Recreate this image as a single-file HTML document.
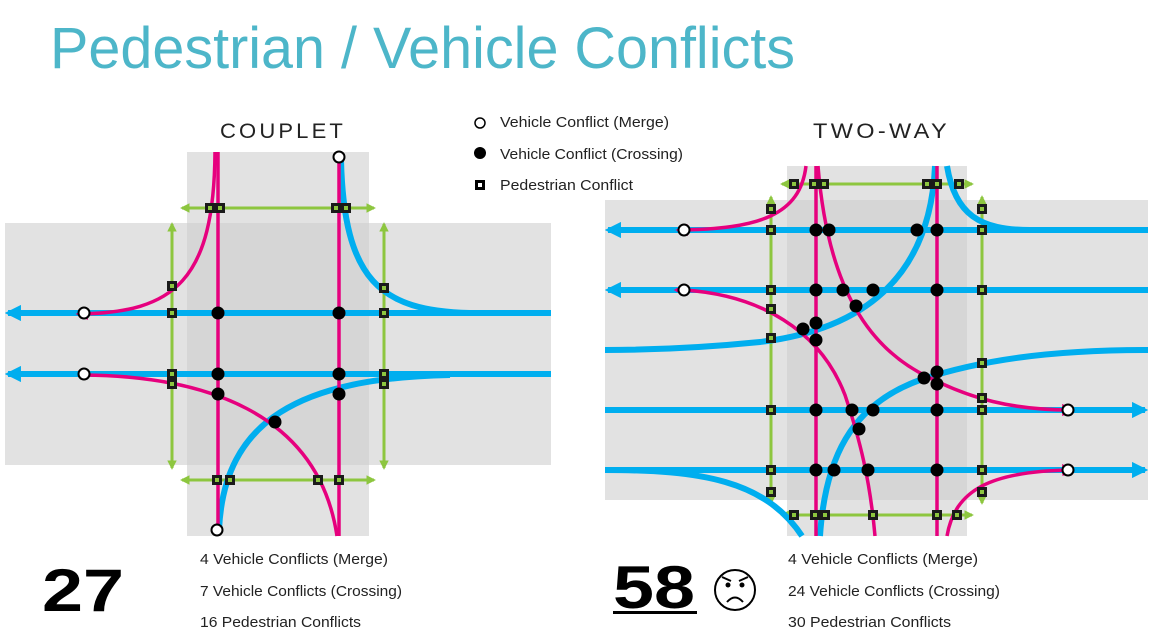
<!DOCTYPE html>
<html><head><meta charset="utf-8"><style>
html,body{margin:0;padding:0;background:#fff;width:1152px;height:644px;overflow:hidden}
svg{display:block}
text{font-family:"Liberation Sans",sans-serif}
</style></head><body>
<svg width="1152" height="644" viewBox="0 0 1152 644" xmlns="http://www.w3.org/2000/svg">
<defs>
<marker id="ab" viewBox="0 0 10 10" refX="8" refY="5" markerWidth="2.7" markerHeight="2.7" orient="auto-start-reverse"><path d="M0,0 L10,5 L0,10 z" fill="#00aeef"/></marker>
<marker id="ag" viewBox="0 0 10 10" refX="8" refY="5" markerWidth="3.2" markerHeight="3.2" orient="auto-start-reverse"><path d="M0,0 L10,5 L0,10 z" fill="#8dc63f"/></marker>
<marker id="ap" viewBox="0 0 10 10" refX="8" refY="5" markerWidth="3.5" markerHeight="3.5" orient="auto"><path d="M0,0 L10,5 L0,10 z" fill="#e6007e"/></marker>
</defs>

<text x="50" y="68" font-size="58" fill="#4db6c9" textLength="745" lengthAdjust="spacingAndGlyphs">Pedestrian / Vehicle Conflicts</text>

<text x="220" y="138" font-size="21" fill="#222" letter-spacing="3" textLength="126" lengthAdjust="spacingAndGlyphs">COUPLET</text>
<text x="813" y="138" font-size="21" fill="#222" letter-spacing="3" textLength="137" lengthAdjust="spacingAndGlyphs">TWO-WAY</text>

<!-- legend -->
<circle cx="480" cy="123" r="5" fill="#fff" stroke="#000" stroke-width="1.5"/>
<text x="500" y="127" font-size="14.5" fill="#222" textLength="169" lengthAdjust="spacingAndGlyphs">Vehicle Conflict (Merge)</text>
<circle cx="480" cy="153" r="6" fill="#000"/>
<text x="500" y="159" font-size="14.5" fill="#222" textLength="183" lengthAdjust="spacingAndGlyphs">Vehicle Conflict (Crossing)</text>
<rect x="475" y="180" width="10" height="10" fill="#000"/><rect x="478" y="183" width="4" height="4" fill="#fff"/>
<text x="500" y="190" font-size="14.5" fill="#222" textLength="133" lengthAdjust="spacingAndGlyphs">Pedestrian Conflict</text>

<!-- ===== COUPLET ===== -->
<rect x="5" y="223" width="546" height="242" fill="#e2e2e2"/>
<rect x="187" y="152" width="182" height="384" fill="#e2e2e2"/>
<rect x="187" y="223" width="182" height="242" fill="#d6d6d6"/>
<g fill="none" stroke-linecap="butt">
<g stroke="#8dc63f" stroke-width="3">
<line x1="182" y1="208" x2="374" y2="208" marker-start="url(#ag)" marker-end="url(#ag)"/>
<line x1="182" y1="480" x2="374" y2="480" marker-start="url(#ag)" marker-end="url(#ag)"/>
<line x1="172" y1="224" x2="172" y2="468" marker-start="url(#ag)" marker-end="url(#ag)"/>
<line x1="384" y1="224" x2="384" y2="468" marker-start="url(#ag)" marker-end="url(#ag)"/>
</g>
<g stroke="#00aeef" stroke-width="6">
<line x1="551" y1="313" x2="8" y2="313" marker-end="url(#ab)"/>
<line x1="551" y1="374" x2="8" y2="374" marker-end="url(#ab)"/>
<path d="M341,160 C344,280 380,311 470,313"/>
<path d="M219,530 C224,420 300,378 450,375"/>
</g>
<g stroke="#e6007e" stroke-width="3.5">
<line x1="218" y1="152" x2="218" y2="536"/>
<line x1="339" y1="152" x2="339" y2="536"/>
<path d="M215,152 C214,280 175,313 78,314" marker-end="url(#ap)"/>
<path d="M84,375 C200,376 318,410 337,536"/>
</g>
</g>
<g fill="#000">
<circle cx="218" cy="313" r="6.5"/><circle cx="339" cy="313" r="6.5"/>
<circle cx="218" cy="374" r="6.5"/><circle cx="339" cy="374" r="6.5"/>
<circle cx="218" cy="394" r="6.5"/><circle cx="339" cy="394" r="6.5"/>
<circle cx="275" cy="422" r="6.5"/>
</g>
<g fill="#fff" stroke="#000" stroke-width="2">
<circle cx="84" cy="313" r="5.5"/><circle cx="84" cy="374" r="5.5"/>
<circle cx="339" cy="157" r="5.5"/><circle cx="217" cy="530" r="5.5"/>
</g>

<!-- ===== TWO-WAY ===== -->
<rect x="605" y="200" width="543" height="300" fill="#e2e2e2"/>
<rect x="787" y="166" width="180" height="370" fill="#e2e2e2"/>
<rect x="787" y="200" width="180" height="300" fill="#d6d6d6"/>
<g fill="none">
<g stroke="#8dc63f" stroke-width="3">
<line x1="782" y1="184" x2="972" y2="184" marker-start="url(#ag)" marker-end="url(#ag)"/>
<line x1="782" y1="515" x2="972" y2="515" marker-start="url(#ag)" marker-end="url(#ag)"/>
<line x1="771" y1="197" x2="771" y2="503" marker-start="url(#ag)" marker-end="url(#ag)"/>
<line x1="982" y1="197" x2="982" y2="503" marker-start="url(#ag)" marker-end="url(#ag)"/>
</g>
<g stroke="#00aeef" stroke-width="6">
<line x1="1148" y1="230" x2="608" y2="230" marker-end="url(#ab)"/>
<line x1="1148" y1="290" x2="608" y2="290" marker-end="url(#ab)"/>
<line x1="605" y1="410" x2="1145" y2="410" marker-end="url(#ab)"/>
<line x1="605" y1="470" x2="1145" y2="470" marker-end="url(#ab)"/>
<path d="M935,166 C930,280 860,330 760,342 C700,348 650,350 605,350"/>
<path d="M1148,350 C1050,350 980,360 920,380 C850,405 825,460 820,536"/>
<path d="M605,470 C700,470 765,480 802,536"/>
<path d="M947,166 C955,215 980,230 1030,230"/>
</g>
<g stroke="#e6007e" stroke-width="3.5">
<line x1="816" y1="166" x2="816" y2="536"/>
<line x1="937" y1="166" x2="937" y2="536"/>
<path d="M806,166 C800,215 760,229 678,230" marker-end="url(#ap)"/>
<path d="M684,290 C760,295 820,330 845,395 C860,440 870,480 875,536"/>
<path d="M818,166 C828,290 870,350 930,378 C970,398 1010,410 1072,410" marker-end="url(#ap)"/>
<path d="M947,536 C955,490 990,471 1072,470" marker-end="url(#ap)"/>
</g>
<path d="M684,290 L676,290" stroke="#e6007e" stroke-width="3.5" marker-end="url(#ap)"/>
</g>
<g fill="#000">
<circle cx="816" cy="230" r="6.5"/><circle cx="829" cy="230" r="6.5"/><circle cx="917" cy="230" r="6.5"/><circle cx="937" cy="230" r="6.5"/>
<circle cx="816" cy="290" r="6.5"/><circle cx="843" cy="290" r="6.5"/><circle cx="873" cy="290" r="6.5"/><circle cx="937" cy="290" r="6.5"/>
<circle cx="856" cy="306" r="6.5"/>
<circle cx="816" cy="323" r="6.5"/><circle cx="803" cy="329" r="6.5"/><circle cx="816" cy="340" r="6.5"/>
<circle cx="937" cy="372" r="6.5"/><circle cx="924" cy="378" r="6.5"/><circle cx="937" cy="384" r="6.5"/>
<circle cx="816" cy="410" r="6.5"/><circle cx="852" cy="410" r="6.5"/><circle cx="873" cy="410" r="6.5"/><circle cx="937" cy="410" r="6.5"/>
<circle cx="859" cy="429" r="6.5"/>
<circle cx="816" cy="470" r="6.5"/><circle cx="834" cy="470" r="6.5"/><circle cx="868" cy="470" r="6.5"/><circle cx="937" cy="470" r="6.5"/>
</g>
<g fill="#fff" stroke="#000" stroke-width="2">
<circle cx="684" cy="230" r="5.5"/><circle cx="684" cy="290" r="5.5"/>
<circle cx="1068" cy="410" r="5.5"/><circle cx="1068" cy="470" r="5.5"/>
</g>

<!-- pedestrian squares -->
<g fill="#1a1a1a">
<rect x="205" y="203" width="10" height="10"/><rect x="215" y="203" width="10" height="10"/><rect x="331" y="203" width="10" height="10"/><rect x="341" y="203" width="10" height="10"/>
<rect x="167" y="281" width="10" height="10"/><rect x="167" y="308" width="10" height="10"/><rect x="167" y="369" width="10" height="10"/><rect x="167" y="379" width="10" height="10"/>
<rect x="379" y="283" width="10" height="10"/><rect x="379" y="308" width="10" height="10"/><rect x="379" y="369" width="10" height="10"/><rect x="379" y="379" width="10" height="10"/>
<rect x="212" y="475" width="10" height="10"/><rect x="225" y="475" width="10" height="10"/><rect x="313" y="475" width="10" height="10"/><rect x="334" y="475" width="10" height="10"/>
<rect x="789" y="179" width="10" height="10"/><rect x="809" y="179" width="10" height="10"/><rect x="819" y="179" width="10" height="10"/><rect x="922" y="179" width="10" height="10"/><rect x="932" y="179" width="10" height="10"/><rect x="954" y="179" width="10" height="10"/>
<rect x="789" y="510" width="10" height="10"/><rect x="810" y="510" width="10" height="10"/><rect x="820" y="510" width="10" height="10"/><rect x="868" y="510" width="10" height="10"/><rect x="932" y="510" width="10" height="10"/><rect x="952" y="510" width="10" height="10"/>
<rect x="766" y="204" width="10" height="10"/><rect x="766" y="225" width="10" height="10"/><rect x="766" y="285" width="10" height="10"/><rect x="766" y="304" width="10" height="10"/><rect x="766" y="333" width="10" height="10"/><rect x="766" y="405" width="10" height="10"/><rect x="766" y="465" width="10" height="10"/><rect x="766" y="487" width="10" height="10"/>
<rect x="977" y="204" width="10" height="10"/><rect x="977" y="225" width="10" height="10"/><rect x="977" y="285" width="10" height="10"/><rect x="977" y="358" width="10" height="10"/><rect x="977" y="393" width="10" height="10"/><rect x="977" y="405" width="10" height="10"/><rect x="977" y="465" width="10" height="10"/><rect x="977" y="487" width="10" height="10"/>
</g>
<g fill="#8dc63f">
<rect x="208" y="206" width="4" height="4"/><rect x="218" y="206" width="4" height="4"/><rect x="334" y="206" width="4" height="4"/><rect x="344" y="206" width="4" height="4"/>
<rect x="170" y="284" width="4" height="4"/><rect x="170" y="311" width="4" height="4"/><rect x="170" y="372" width="4" height="4"/><rect x="170" y="382" width="4" height="4"/>
<rect x="382" y="286" width="4" height="4"/><rect x="382" y="311" width="4" height="4"/><rect x="382" y="372" width="4" height="4"/><rect x="382" y="382" width="4" height="4"/>
<rect x="215" y="478" width="4" height="4"/><rect x="228" y="478" width="4" height="4"/><rect x="316" y="478" width="4" height="4"/><rect x="337" y="478" width="4" height="4"/>
<rect x="792" y="182" width="4" height="4"/><rect x="812" y="182" width="4" height="4"/><rect x="822" y="182" width="4" height="4"/><rect x="925" y="182" width="4" height="4"/><rect x="935" y="182" width="4" height="4"/><rect x="957" y="182" width="4" height="4"/>
<rect x="792" y="513" width="4" height="4"/><rect x="813" y="513" width="4" height="4"/><rect x="823" y="513" width="4" height="4"/><rect x="871" y="513" width="4" height="4"/><rect x="935" y="513" width="4" height="4"/><rect x="955" y="513" width="4" height="4"/>
<rect x="769" y="207" width="4" height="4"/><rect x="769" y="228" width="4" height="4"/><rect x="769" y="288" width="4" height="4"/><rect x="769" y="307" width="4" height="4"/><rect x="769" y="336" width="4" height="4"/><rect x="769" y="408" width="4" height="4"/><rect x="769" y="468" width="4" height="4"/><rect x="769" y="490" width="4" height="4"/>
<rect x="980" y="207" width="4" height="4"/><rect x="980" y="228" width="4" height="4"/><rect x="980" y="288" width="4" height="4"/><rect x="980" y="361" width="4" height="4"/><rect x="980" y="396" width="4" height="4"/><rect x="980" y="408" width="4" height="4"/><rect x="980" y="468" width="4" height="4"/><rect x="980" y="490" width="4" height="4"/>
</g>

<!-- bottom -->
<text x="42" y="611" font-size="60" font-weight="bold" fill="#000" textLength="82" lengthAdjust="spacingAndGlyphs">27</text>
<text x="200" y="564" font-size="14.5" fill="#222" textLength="188" lengthAdjust="spacingAndGlyphs">4 Vehicle Conflicts (Merge)</text>
<text x="200" y="596" font-size="14.5" fill="#222" textLength="202" lengthAdjust="spacingAndGlyphs">7 Vehicle Conflicts (Crossing)</text>
<text x="200" y="627" font-size="14.5" fill="#222" textLength="161" lengthAdjust="spacingAndGlyphs">16 Pedestrian Conflicts</text>
<text x="613" y="608" font-size="60" font-weight="bold" fill="#000" textLength="82" lengthAdjust="spacingAndGlyphs">58</text>
<rect x="613" y="611" width="84" height="3" fill="#000"/>
<circle cx="735" cy="590" r="20" fill="#fff" stroke="#000" stroke-width="2"/>
<circle cx="728" cy="585" r="2.5" fill="#000"/><circle cx="742" cy="585" r="2.5" fill="#000"/>
<path d="M722,577 L731,581 M748,577 L739,581" stroke="#000" stroke-width="2"/>
<path d="M727,602 Q735,593 743,602" fill="none" stroke="#000" stroke-width="2"/>
<text x="788" y="564" font-size="14.5" fill="#222" textLength="190" lengthAdjust="spacingAndGlyphs">4 Vehicle Conflicts (Merge)</text>
<text x="788" y="596" font-size="14.5" fill="#222" textLength="212" lengthAdjust="spacingAndGlyphs">24 Vehicle Conflicts (Crossing)</text>
<text x="788" y="627" font-size="14.5" fill="#222" textLength="163" lengthAdjust="spacingAndGlyphs">30 Pedestrian Conflicts</text>
</svg>
</body></html>
